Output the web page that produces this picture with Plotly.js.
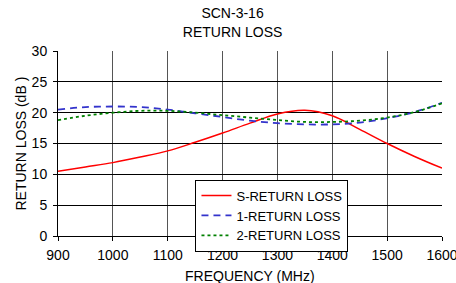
<!DOCTYPE html>
<html><head><meta charset="utf-8">
<script src="https://cdn.plot.ly/plotly-3.0.1.min.js"></script>
<style>html,body{margin:0;padding:0;background:#fff}#c{width:456px;height:283px}</style>
</head><body><div id="c"></div>
<script>
const freq = [900,950,1000,1050,1100,1150,1200,1250,1300,1350,1400,1450,1500,1550,1600];
const sRL  = [10.5,11.2,11.9,12.8,13.8,15.2,16.7,18.3,19.8,20.4,19.5,17.3,15.0,12.9,11.0];
const rl1  = [20.5,20.9,21.0,20.9,20.5,19.9,19.3,18.7,18.3,18.1,18.1,18.4,19.1,20.1,21.6];
const rl2  = [18.8,19.5,20.0,20.3,20.3,20.0,19.6,19.2,18.8,18.5,18.5,18.7,19.2,20.1,21.5];
const xTicks = [900,1000,1100,1200,1300,1400,1500,1600];
const yTicks = [0,5,10,15,20,25,30];

const F = "Liberation Sans, Arial, sans-serif";
const traces = [
  {x:freq,y:sRL,name:'S-RETURN LOSS',mode:'lines',line:{color:'#ff0000',width:1.5,shape:'spline'}},
  {x:freq,y:rl1,name:'1-RETURN LOSS',mode:'lines',line:{color:'#3333cc',width:1.8,dash:'7px,5px',shape:'spline'}},
  {x:freq,y:rl2,name:'2-RETURN LOSS',mode:'lines',line:{color:'#008000',width:1.8,dash:'3px,3px',shape:'spline'}}
];
const layout = {
  width:456,height:283,
  margin:{l:58,r:14,t:51,b:47},
  paper_bgcolor:'#fff',plot_bgcolor:'#fff',
  font:{family:F,size:14,color:'#000'},
  title:{text:'SCN-3-16<br>RETURN LOSS',font:{family:F,size:14,color:'#000'},x:0.51,xanchor:'center',yref:'container',y:0.935,yanchor:'top'},
  xaxis:{range:[900,1600],tickvals:xTicks,ticktext:xTicks.map(String),showgrid:true,gridcolor:'#555',gridwidth:1,
    showline:true,linecolor:'#000',linewidth:1,mirror:false,ticks:'outside',ticklen:4,tickcolor:'#000',zeroline:false,
    ticklabeloverflow:'allow',ticklabelstandoff:2,
    tickfont:{family:F,size:14}},
  yaxis:{range:[0,30],tickvals:yTicks,showgrid:true,gridcolor:'#000',gridwidth:1,
    showline:true,linecolor:'#000',linewidth:1,ticks:'outside',ticklen:4,tickcolor:'#000',zeroline:false,
    ticklabelstandoff:3,
    tickfont:{family:F,size:14}},
  annotations:[
    {text:'FREQUENCY (MHz)',xref:'paper',yref:'paper',x:0.5,y:0,xanchor:'center',yanchor:'middle',yshift:-40,showarrow:false,font:{family:F,size:14,color:'#000'}},
    {text:'RETURN LOSS (dB )',xref:'paper',yref:'paper',x:0,y:0.5,xanchor:'center',yanchor:'middle',xshift:-38,textangle:-90,showarrow:false,font:{family:F,size:14,color:'#000'}}
  ],
  legend:{x:0.358,y:0.305,xanchor:'left',yanchor:'top',bgcolor:'#fff',bordercolor:'#000',borderwidth:1,
    font:{family:F,size:13},tracegroupgap:0,itemwidth:30},
  showlegend:true
};
Plotly.newPlot('c',traces,layout,{displayModeBar:false,staticPlot:true});
</script></body></html>
